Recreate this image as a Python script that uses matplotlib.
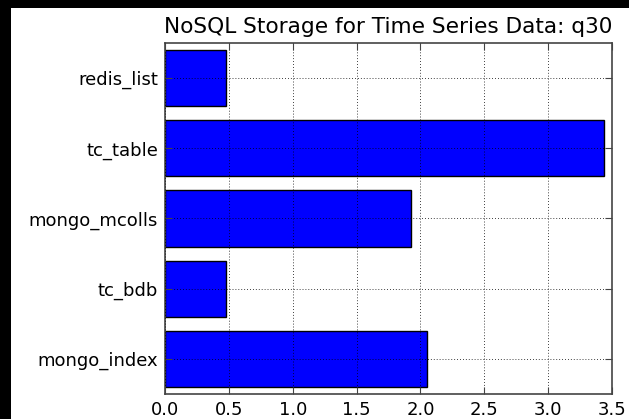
import matplotlib
matplotlib.use("Agg")
import matplotlib.pyplot as plt
from matplotlib.patches import Rectangle

# Storage used per backend
backends = ["mongo_index", "tc_bdb", "mongo_mcolls", "tc_table", "redis_list"]
storage = [2.05, 0.48, 1.93, 3.44, 0.48]
xticks = [0.0, 0.5, 1.0, 1.5, 2.0, 2.5, 3.0, 3.5]
title = "NoSQL Storage for Time Series Data: q30"

W, H = 629, 419
fig = plt.figure(figsize=(W / 100, H / 100), dpi=100, facecolor="white")
# dark margin along the left and top edges
for x0, y0, w, h in [(0, 0, 11 / W, 1), (0, 1 - 8 / H, 1, 8 / H)]:
    fig.patches.append(Rectangle((x0, y0), w, h, transform=fig.transFigure,
                                 facecolor="black", edgecolor="none"))

ax = fig.add_axes([165 / W, 1 - 394 / H, (612 - 165) / W, (394 - 43) / H])
ypos = list(range(len(backends)))
ax.barh(ypos, storage, height=0.8, color="#0000ff", edgecolor="black",
        linewidth=1.0, zorder=2)

ax.set_xlim(0, 3.5)
ax.set_ylim(-0.5, len(backends) - 0.5)
ax.set_xticks(xticks)
ax.set_xticklabels([f"{t:.1f}" for t in xticks])
ax.set_yticks(ypos)
ax.set_yticklabels(backends)

ax.grid(True, color="black", linestyle=(0, (1, 2.5)), linewidth=0.6, zorder=3)
ax.set_axisbelow(False)
ax.tick_params(direction="in", length=5, width=0.8, colors="#444444",
               labelcolor="black", labelsize=13, top=True, right=True, pad=5)
for s in ax.spines.values():
    s.set_color("#444444")
    s.set_linewidth(1.2)

ax.set_title(title, fontsize=15.6, pad=7)

fig.savefig("out.png", dpi=100, facecolor=fig.get_facecolor())
